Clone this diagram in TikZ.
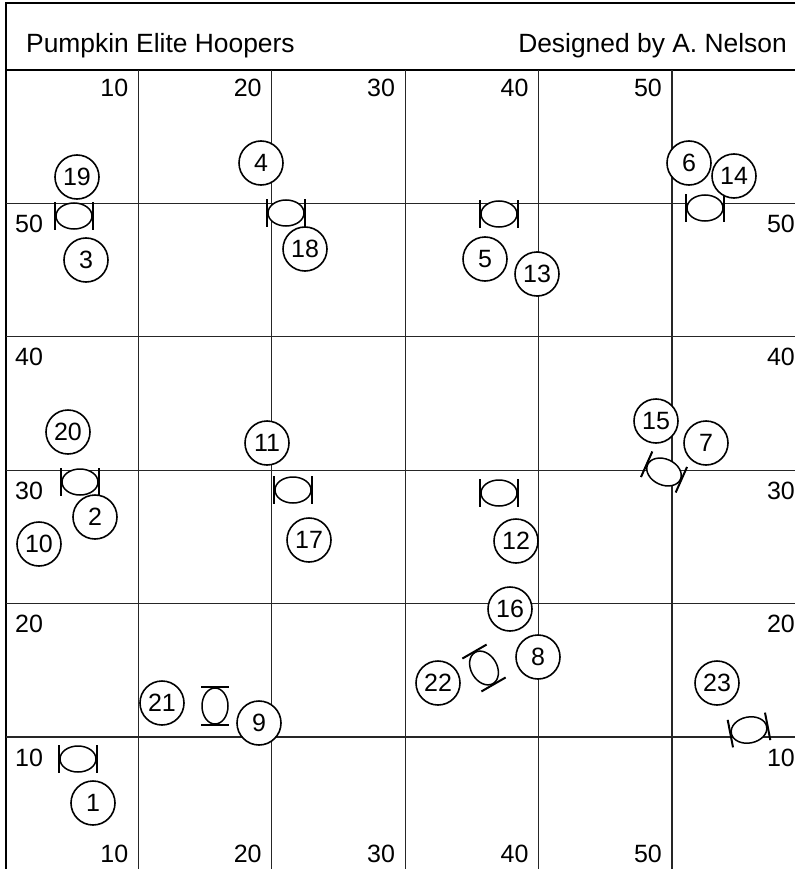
\documentclass[tikz,border=0pt]{standalone}
\usepackage{fontspec}
\setmainfont{Liberation Sans}

\begin{document}
\begin{tikzpicture}[x=1pt,y=-1pt,
    every node/.style={font=\fontsize{25}{25}\selectfont,inner sep=0pt},
    frameline/.style={line width=2pt},
    gridline/.style={line width=1.3pt,black!85},
    player/.style={draw,circle,line width=1.6pt,minimum size=44pt,fill=white},
    hoopline/.style={line width=1.5pt,fill=white},
    hoopbar/.style={line width=2pt},
    hoop/.pic={
      \draw[hoopline] (0,0) ellipse [x radius=18,y radius=13];
      \draw[hoopbar] (-19,-14) -- (-19,14) (19,-14) -- (19,14);
    }]
  \useasboundingbox (0,0) rectangle (795,869);
  %% Frame and header
  \draw[frameline] (795,3) -- (6,3) -- (6,869);
  \draw[frameline] (6,70) -- (795,70);
  \node[anchor=base west,font=\fontsize{26.4}{26.4}\selectfont] (title) at (26,53)
    {Pumpkin Elite Hoopers};
  \node[anchor=base east,font=\fontsize{26.4}{26.4}\selectfont] (credit) at (787,53)
    {Designed by A. Nelson};
  %% Grid with yard numbers
  \foreach \i in {1,...,5}{
    \draw[gridline] ({5+133.4*\i},70) -- ({5+133.4*\i},869);
    \draw[gridline] (6,{70+133.4*\i}) -- (795,{70+133.4*\i});
    \node[anchor=base east] (top\i) at ({-5+133.4*\i},97) {\i0};
    \node[anchor=base east] (bot\i) at ({-5+133.4*\i},862) {\i0};
  }
  \foreach \j/\v in {1/50,2/40,3/30,4/20,5/10}{
    \node[anchor=base west] (left\v) at (15,{99+133.4*\j}) {\v};
    \node[anchor=base east] (right\v) at (795,{99+133.4*\j}) {\v};
  }
  %% Hoops
  \foreach \n/\x/\y/\a in {
      a/74/216/0, b/286/213/0, c/499/214/0, d/705/208/0,
      e/80/482/0, f/293/490/0, g/499/493/0, h/664/472/-24,
      i/484/668/-60, j/215/706/90, k/78/759/0, l/749/730/11}{
    \pic[rotate=\a] (hoop\n) at (\x,\y) {hoop};
  }
  %% Players
  \foreach \n/\x/\y in {
      19/77/177, 4/261/163, 3/86/260, 18/305/249, 5/485/259,
      13/537/274, 6/689/163, 14/734/176, 20/68/432, 11/267/443,
      2/95/517, 10/39/544, 17/309/540, 15/656/421, 7/706/443,
      12/516/541, 16/510/609, 8/538/657, 22/438/683, 23/717/683,
      21/162/703, 9/259/723, 1/93/803}{
    \node[player] (p\n) at (\x,\y) {\n};
  }
\end{tikzpicture}
\end{document}
